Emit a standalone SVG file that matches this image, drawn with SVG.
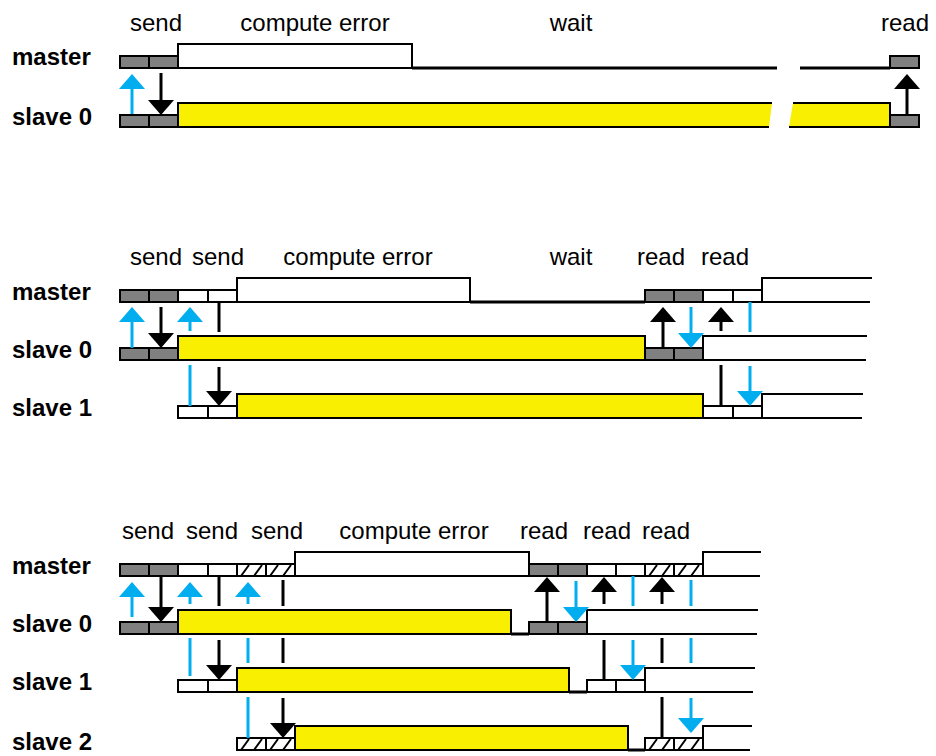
<svg xmlns="http://www.w3.org/2000/svg" xmlns:xlink="http://www.w3.org/1999/xlink" width="936" height="756" viewBox="0 0 936 756">
<style>
.bg{fill:#fff}
.c{stroke:#000;stroke-width:2}
.g{fill:#808080}
.w{fill:#fff}
.y{fill:#f8f000;stroke:#000;stroke-width:2}
.yf{fill:#f8f000}
.bx{fill:#fff;stroke:#000;stroke-width:2}
.ln{fill:none;stroke:#000;stroke-width:2}
.wt{fill:none;stroke:#000;stroke-width:3}
.ab{stroke:#00aeef;stroke-width:3;fill:none}
.ak{stroke:#000;stroke-width:3;fill:none}
.ab.h{marker-end:url(#hb)}
.ak.h{marker-end:url(#hk)}
text{font-family:"Liberation Sans",Arial,sans-serif;font-size:24px;fill:#000}
.t{text-anchor:middle}
.b{font-weight:bold}
</style>
<defs>
<marker id="hb" viewBox="0 0 15 26" refX="0" refY="13" markerWidth="15" markerHeight="26" markerUnits="userSpaceOnUse" orient="auto"><path d="M0,0 L15,13 L0,26 z" fill="#00aeef"/></marker>
<marker id="hk" viewBox="0 0 15 26" refX="0" refY="13" markerWidth="15" markerHeight="26" markerUnits="userSpaceOnUse" orient="auto"><path d="M0,0 L15,13 L0,26 z" fill="#000"/></marker>
<g id="hatch"><rect x="0" y="0" width="29" height="12" fill="#fff"/><path d="M4,12 L12,1 M17,12 L25,1" stroke="#000" stroke-width="2"/><rect x="0" y="0" width="29" height="12" fill="none" stroke="#000" stroke-width="2"/></g>
</defs>
<rect class="bg" x="0" y="0" width="936" height="756"/>

<!-- ===== Section 1 ===== -->
<g id="s1-labels">
<text class="t" x="156" y="31">send</text>
<text class="t" x="315" y="31">compute error</text>
<text class="t" x="571" y="31">wait</text>
<text class="t" x="905" y="31">read</text>
</g>
<g id="s1-master">
<text class="b" x="12" y="65">master</text>
<rect class="c g" x="120" y="56" width="29" height="12"/>
<rect class="c g" x="149" y="56" width="29" height="12"/>
<rect class="bx" x="178" y="44" width="234" height="24"/>
<path class="wt" d="M412,68 H777 M800,68 H890"/>
<rect class="c g" x="890" y="56" width="29" height="12"/>
</g>
<g id="s1-slave0">
<text class="b" x="12" y="125">slave 0</text>
<rect class="c g" x="120" y="115" width="29" height="12"/>
<rect class="c g" x="149" y="115" width="29" height="12"/>
<polygon class="yf" points="178,103 772,103 769,127 178,127"/>
<polygon class="yf" points="793,103 890,103 890,127 789,127"/>
<polyline class="ln" points="772,103 178,103 178,127 769,127"/>
<polyline class="ln" points="793,103 890,103 890,127 789,127"/>
<rect class="c g" x="890" y="115" width="29" height="12"/>
</g>

<!-- ===== Section 2 ===== -->
<g id="s2-labels">
<text class="t" x="156" y="265">send</text>
<text class="t" x="218" y="265">send</text>
<text class="t" x="358" y="265">compute error</text>
<text class="t" x="571" y="265">wait</text>
<text class="t" x="661" y="265">read</text>
<text class="t" x="725" y="265">read</text>
</g>
<g id="s2-master">
<text class="b" x="12" y="300">master</text>
<rect class="c g" x="120" y="290" width="29" height="12"/>
<rect class="c g" x="149" y="290" width="29" height="12"/>
<rect class="c w" x="178" y="290" width="30" height="12"/>
<rect class="c w" x="208" y="290" width="29" height="12"/>
<rect class="bx" x="237" y="278" width="233" height="24"/>
<path class="wt" d="M470,302 H645"/>
<rect class="c g" x="645" y="290" width="29" height="12"/>
<rect class="c g" x="674" y="290" width="29" height="12"/>
<rect class="c w" x="703" y="290" width="30" height="12"/>
<rect class="c w" x="733" y="290" width="29" height="12"/>
<path class="ln" d="M762,290 V278 H872 M762,302 H870"/>
</g>
<g id="s2-slave0">
<text class="b" x="12" y="358">slave 0</text>
<rect class="c g" x="120" y="348" width="29" height="12"/>
<rect class="c g" x="149" y="348" width="29" height="12"/>
<rect class="y" x="178" y="336" width="467" height="24"/>
<rect class="c g" x="645" y="348" width="29" height="12"/>
<rect class="c g" x="674" y="348" width="29" height="12"/>
<path class="ln" d="M703,348 V336 H867 M703,360 H866"/>
</g>
<g id="s2-slave1">
<text class="b" x="12" y="416">slave 1</text>
<rect class="c w" x="178" y="406" width="30" height="12"/>
<rect class="c w" x="208" y="406" width="29" height="12"/>
<rect class="y" x="237" y="394" width="466" height="24"/>
<rect class="c w" x="703" y="406" width="30" height="12"/>
<rect class="c w" x="733" y="406" width="29" height="12"/>
<path class="ln" d="M762,406 V394 H863 M762,418 H862"/>
</g>

<!-- ===== Section 3 ===== -->
<g id="s3-labels">
<text class="t" x="148" y="539">send</text>
<text class="t" x="212" y="539">send</text>
<text class="t" x="277" y="539">send</text>
<text class="t" x="414" y="539">compute error</text>
<text class="t" x="544" y="539">read</text>
<text class="t" x="607" y="539">read</text>
<text class="t" x="666" y="539">read</text>
</g>
<g id="s3-master">
<text class="b" x="12" y="574">master</text>
<rect class="c g" x="120" y="564" width="29" height="12"/>
<rect class="c g" x="149" y="564" width="29" height="12"/>
<rect class="c w" x="178" y="564" width="30" height="12"/>
<rect class="c w" x="208" y="564" width="29" height="12"/>
<use xlink:href="#hatch" x="237" y="564"/>
<use xlink:href="#hatch" x="266" y="564"/>
<rect class="bx" x="295" y="552" width="234" height="24"/>
<rect class="c g" x="529" y="564" width="29" height="12"/>
<rect class="c g" x="558" y="564" width="29" height="12"/>
<rect class="c w" x="587" y="564" width="29" height="12"/>
<rect class="c w" x="616" y="564" width="29" height="12"/>
<use xlink:href="#hatch" x="645" y="564"/>
<use xlink:href="#hatch" x="674" y="564"/>
<path class="ln" d="M703,564 V552 H761 M703,576 H760"/>
</g>
<g id="s3-slave0">
<text class="b" x="12" y="632">slave 0</text>
<rect class="c g" x="120" y="622" width="29" height="12"/>
<rect class="c g" x="149" y="622" width="29" height="12"/>
<rect class="y" x="178" y="610" width="333" height="24"/>
<path class="wt" d="M511,634 H529"/>
<rect class="c g" x="529" y="622" width="29" height="12"/>
<rect class="c g" x="558" y="622" width="29" height="12"/>
<path class="ln" d="M587,622 V610 H758 M587,634 H757"/>
</g>
<g id="s3-slave1">
<text class="b" x="12" y="690">slave 1</text>
<rect class="c w" x="178" y="680" width="30" height="12"/>
<rect class="c w" x="208" y="680" width="29" height="12"/>
<rect class="y" x="237" y="668" width="332" height="24"/>
<path class="wt" d="M569,692 H587"/>
<rect class="c w" x="587" y="680" width="29" height="12"/>
<rect class="c w" x="616" y="680" width="29" height="12"/>
<path class="ln" d="M645,680 V668 H755 M645,692 H753"/>
</g>
<g id="s3-slave2">
<text class="b" x="12" y="750">slave 2</text>
<use xlink:href="#hatch" x="237" y="738"/>
<use xlink:href="#hatch" x="266" y="738"/>
<rect class="y" x="295" y="726" width="333" height="24"/>
<path class="wt" d="M628,750 H645"/>
<use xlink:href="#hatch" x="645" y="738"/>
<use xlink:href="#hatch" x="674" y="738"/>
<path class="ln" d="M703,738 V726 H752 M703,750 H750"/>
</g>

<!-- ===== Connectors ===== -->
<g id="connectors">
<!-- section 1 -->
<line class="ab h" x1="132" y1="114" x2="132" y2="89"/>
<line class="ak h" x1="161" y1="73" x2="161" y2="100"/>
<line class="ak h" x1="907" y1="115" x2="907" y2="89"/>
<!-- section 2 -->
<line class="ab h" x1="132" y1="348" x2="132" y2="322"/>
<line class="ak h" x1="161" y1="307" x2="161" y2="333"/>
<line class="ab h" x1="190" y1="331" x2="190" y2="322"/>
<line class="ak" x1="219" y1="302" x2="219" y2="332"/>
<line class="ab" x1="190" y1="365" x2="190" y2="406"/>
<line class="ak h" x1="219" y1="367" x2="219" y2="391"/>
<line class="ak h" x1="663" y1="348" x2="663" y2="322"/>
<line class="ab h" x1="691" y1="307" x2="691" y2="333"/>
<line class="ak h" x1="721" y1="331" x2="721" y2="322"/>
<line class="ab" x1="750" y1="302" x2="750" y2="332"/>
<line class="ak" x1="721" y1="365" x2="721" y2="406"/>
<line class="ab h" x1="750" y1="366" x2="750" y2="391"/>
<!-- section 3 -->
<line class="ab h" x1="132" y1="617" x2="132" y2="597"/>
<line class="ak h" x1="161" y1="576" x2="161" y2="607"/>
<line class="ab h" x1="190" y1="604" x2="190" y2="597"/>
<line class="ak" x1="219" y1="576" x2="219" y2="606"/>
<line class="ab h" x1="248" y1="604" x2="248" y2="597"/>
<line class="ak" x1="283" y1="580" x2="283" y2="606"/>
<line class="ab" x1="190" y1="638" x2="190" y2="676"/>
<line class="ak h" x1="219" y1="640" x2="219" y2="665"/>
<line class="ab" x1="248" y1="638" x2="248" y2="663"/>
<line class="ak" x1="283" y1="638" x2="283" y2="663"/>
<line class="ab" x1="248" y1="697" x2="248" y2="738"/>
<line class="ak h" x1="283" y1="698" x2="283" y2="723"/>
<line class="ak h" x1="547" y1="622" x2="547" y2="592"/>
<line class="ab h" x1="576" y1="581" x2="576" y2="607"/>
<line class="ak h" x1="604" y1="604" x2="604" y2="592"/>
<line class="ab" x1="633" y1="576" x2="633" y2="606"/>
<line class="ak h" x1="662" y1="604" x2="662" y2="592"/>
<line class="ab" x1="691" y1="580" x2="691" y2="606"/>
<line class="ak" x1="604" y1="640" x2="604" y2="680"/>
<line class="ab h" x1="633" y1="640" x2="633" y2="665"/>
<line class="ak" x1="662" y1="638" x2="662" y2="663"/>
<line class="ab" x1="691" y1="638" x2="691" y2="663"/>
<line class="ak" x1="662" y1="697" x2="662" y2="738"/>
<line class="ab h" x1="691" y1="698" x2="691" y2="718"/>
</g>
</svg>
